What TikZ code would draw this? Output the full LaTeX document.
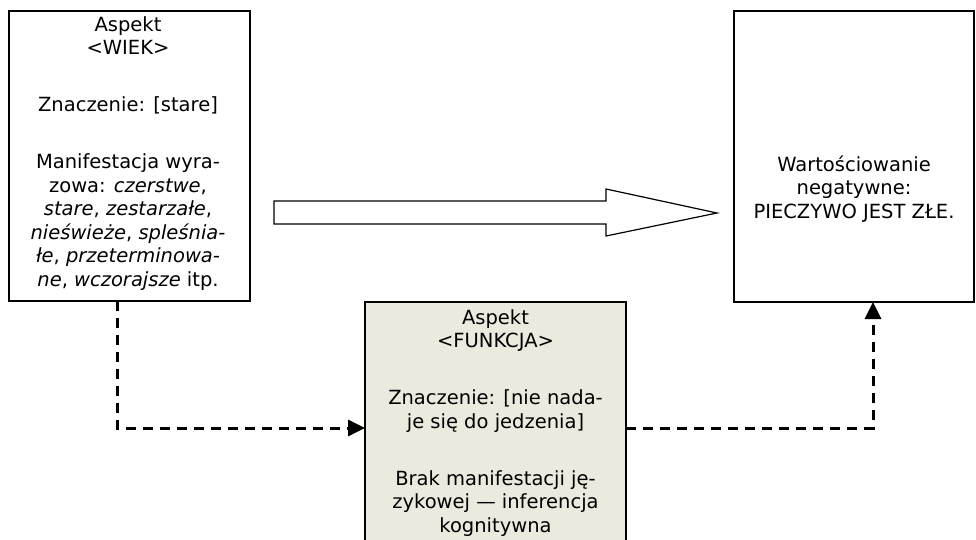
\documentclass[tikz,border=0pt]{standalone}
\usepackage{fontspec}
\setmainfont{DejaVu Sans}
\usetikzlibrary{arrows.meta}
\definecolor{boxbeige}{RGB}{236,233,222}
\begin{document}
\begin{tikzpicture}[x=1pt,y=-1pt,
  framebox/.style={draw=black,line width=2.7pt,rectangle,inner sep=0pt,outer sep=0pt},
  boxtext/.style={inner sep=0pt,outer sep=0pt,anchor=north,align=center,
    font=\fontsize{19.5}{23.5}\selectfont},
  conn/.style={line width=3pt,dash pattern=on 10pt off 7pt,
    -{Triangle[length=17pt,width=16pt]}},
  blockarrow/.style={draw=black,line width=1.2pt,fill=white,line join=miter}]
\useasboundingbox (0,0) rectangle (976,539);

% the three boxes
\node[framebox,minimum width=241pt,minimum height=290pt] (wiek) at (129.5,156) {};
\node[framebox,minimum width=240pt,minimum height=291pt] (wart) at (854,156.5) {};
\node[framebox,fill=boxbeige,minimum width=261pt,minimum height=258pt] (funk) at (495.5,431) {};

% box contents
\node[boxtext] (wiektxt) at ([xshift=-1.5pt,yshift=-5.6pt]wiek.north)
  {Aspekt\\ <WIEK>\\[33.5pt]
   Znaczenie: [stare]\\[33.5pt]
   Manifestacja wyra-\\
   zowa: \textit{czerstwe},\\
   \textit{stare}, \textit{zestarzałe},\\
   \textit{nieświeże}, \textit{spleśnia-}\\
   \textit{łe}, \textit{przeterminowa-}\\
   \textit{ne}, \textit{wczorajsze} itp.};
\node[boxtext] (funktxt) at ([yshift=-7.6pt]funk.north)
  {Aspekt\\ <FUNKCJA>\\[33.5pt]
   Znaczenie: [nie nada-\\
   je się do jedzenia]\\[33.5pt]
   Brak manifestacji ję-\\
   zykowej — inferencja\\
   kognitywna};
\node[boxtext] (warttxt) at ([yshift=-144.8pt]wart.north)
  {Wartościowanie\\ negatywne:\\ PIECZYWO JEST ZŁE.};

% hollow block arrow between the upper boxes
\coordinate (ba) at (274,212.5);
\draw[blockarrow] (ba) ++(0,-11.5) -- ++(332,0) -- ++(0,-12) -- (717,213)
  -- (606,236) -- ++(0,-12) -- (274,224) -- cycle;

% dashed connectors
\coordinate (lcorner) at (117,428);
\coordinate (rcorner) at (873,428);
\draw[conn] (wiek.south -| lcorner) -- (lcorner) -- (funk.west |- lcorner);
\draw[conn] (funk.east |- rcorner) -- (rcorner) -- (wart.south -| rcorner);
\end{tikzpicture}
\end{document}
